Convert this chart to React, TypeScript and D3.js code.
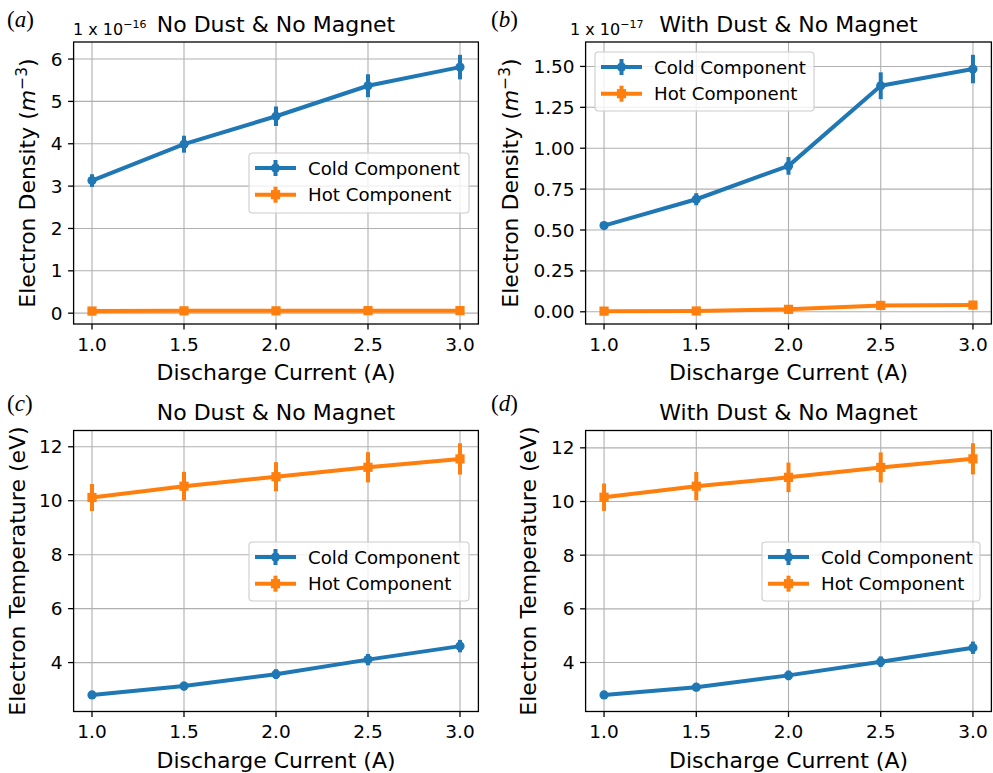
import React from "react";
import * as d3 from "d3";

const currents = [1.0, 1.5, 2.0, 2.5, 3.0];
const xTicks = [1.0, 1.5, 2.0, 2.5, 3.0];

// (a) density, no dust (units of 1e-16)
const densColdNoDust = [3.13, 3.99, 4.65, 5.37, 5.81];
const densColdNoDustErr = [0.15, 0.2, 0.23, 0.27, 0.29];
const densHotNoDust = [0.05, 0.055, 0.055, 0.06, 0.06];
const densHotNoDustErr = [0.003, 0.003, 0.003, 0.003, 0.003];

// (b) density, with dust (units of 1e-17)
const densColdDust = [0.527, 0.688, 0.892, 1.382, 1.484];
const densColdDustErr = [0.02, 0.037, 0.054, 0.082, 0.087];
const densHotDust = [0.004, 0.005, 0.015, 0.039, 0.041];
const densHotDustErr = [0.0003, 0.0003, 0.001, 0.002, 0.002];

// (c) temperature, no dust (eV)
const tempColdNoDust = [2.8, 3.13, 3.57, 4.11, 4.61];
const tempColdNoDustErr = [0.14, 0.16, 0.18, 0.21, 0.23];
const tempHotNoDust = [10.12, 10.54, 10.89, 11.24, 11.55];
const tempHotNoDustErr = [0.5, 0.53, 0.54, 0.56, 0.58];

// (d) temperature, with dust (eV)
const tempColdDust = [2.79, 3.08, 3.52, 4.03, 4.55];
const tempColdDustErr = [0.14, 0.15, 0.18, 0.2, 0.23];
const tempHotDust = [10.16, 10.57, 10.9, 11.27, 11.59];
const tempHotDustErr = [0.51, 0.53, 0.55, 0.56, 0.58];

const densTicksA = [0, 1, 2, 3, 4, 5, 6];
const densTicksB = [0, 0.25, 0.5, 0.75, 1.0, 1.25, 1.5];
const tempTicks = [4, 6, 8, 10, 12];

const seriesNames = ["Cold Component", "Hot Component"];
const COLD = "#1f77b4";
const HOT = "#ff7f0e";
const FONT = "DejaVu Sans, sans-serif";
const TICK_FS = 18.5;
const LABEL_FS = 22;
const LEGEND_FS = 18.2;

type Series = { vals: number[]; errs: number[]; color: string; marker: "o" | "s" };

type PanelCfg = {
  letter: string;
  letterX: number;
  letterY: number;
  title: string;
  left: number;
  right: number;
  top: number;
  bottom: number;
  yTicks: number[];
  yFmt: (v: number) => string;
  ylabel: "density" | "temp";
  ylabelX: number;
  offset?: string;
  offsetX?: number;
  series: Series[];
  legend: { x: number; y: number; w: number; h: number };
};

const panels: PanelCfg[] = [
  {
    letter: "a", letterX: 7, letterY: 27,
    title: "No Dust & No Magnet",
    left: 73.6, right: 478.4, top: 42, bottom: 324,
    yTicks: densTicksA, yFmt: (v) => d3.format("d")(v),
    ylabel: "density", ylabelX: 35,
    offset: "16", offsetX: 73,
    series: [
      { vals: densColdNoDust, errs: densColdNoDustErr, color: COLD, marker: "o" },
      { vals: densHotNoDust, errs: densHotNoDustErr, color: HOT, marker: "s" },
    ],
    legend: { x: 249, y: 153, w: 220, h: 60 },
  },
  {
    letter: "b", letterX: 491, letterY: 27,
    title: "With Dust & No Magnet",
    left: 585.6, right: 991.4, top: 42, bottom: 324,
    yTicks: densTicksB, yFmt: (v) => d3.format(".2f")(v),
    ylabel: "density", ylabelX: 518,
    offset: "17", offsetX: 570,
    series: [
      { vals: densColdDust, errs: densColdDustErr, color: COLD, marker: "o" },
      { vals: densHotDust, errs: densHotDustErr, color: HOT, marker: "s" },
    ],
    legend: { x: 595, y: 52, w: 219, h: 59 },
  },
  {
    letter: "c", letterX: 7, letterY: 411,
    title: "No Dust & No Magnet",
    left: 73.6, right: 478.4, top: 430.5, bottom: 711.5,
    yTicks: tempTicks, yFmt: (v) => d3.format("d")(v),
    ylabel: "temp", ylabelX: 25,
    series: [
      { vals: tempColdNoDust, errs: tempColdNoDustErr, color: COLD, marker: "o" },
      { vals: tempHotNoDust, errs: tempHotNoDustErr, color: HOT, marker: "s" },
    ],
    legend: { x: 249, y: 542, w: 220, h: 59 },
  },
  {
    letter: "d", letterX: 491, letterY: 411,
    title: "With Dust & No Magnet",
    left: 585.6, right: 991.4, top: 430.5, bottom: 711.5,
    yTicks: tempTicks, yFmt: (v) => d3.format("d")(v),
    ylabel: "temp", ylabelX: 536,
    series: [
      { vals: tempColdDust, errs: tempColdDustErr, color: COLD, marker: "o" },
      { vals: tempHotDust, errs: tempHotDustErr, color: HOT, marker: "s" },
    ],
    legend: { x: 762, y: 542, w: 218, h: 59 },
  },
];

function Marker({ x, y, kind, color }: { x: number; y: number; kind: "o" | "s"; color: string }) {
  if (kind === "o") return <circle cx={x} cy={y} r={4.6} fill={color} />;
  return <rect x={x - 4.6} y={y - 4.6} width={9.2} height={9.2} fill={color} />;
}

function Panel({ p }: { p: PanelCfg }) {
  const xMin = d3.min(currents)!;
  const xMax = d3.max(currents)!;
  const xPad = (xMax - xMin) * 0.05;
  const x = d3.scaleLinear().domain([xMin - xPad, xMax + xPad]).range([p.left, p.right]);

  const lo = d3.min(p.series.flatMap((s) => s.vals.map((v, i) => v - s.errs[i])))!;
  const hi = d3.max(p.series.flatMap((s) => s.vals.map((v, i) => v + s.errs[i])))!;
  const yPad = (hi - lo) * 0.05;
  const y = d3.scaleLinear().domain([lo - yPad, hi + yPad]).range([p.bottom, p.top]);

  const line = d3
    .line<number>()
    .x((_, i) => x(currents[i]))
    .y((v) => y(v));

  const cx = (p.left + p.right) / 2;
  const cy = (p.top + p.bottom) / 2;
  const lg = p.legend;

  return (
    <g>
      {xTicks.map((t) => (
        <line key={"gx" + t} x1={x(t)} x2={x(t)} y1={p.top} y2={p.bottom} stroke="#b0b0b0" strokeWidth={1.1} />
      ))}
      {p.yTicks.map((t) => (
        <line key={"gy" + t} x1={p.left} x2={p.right} y1={y(t)} y2={y(t)} stroke="#b0b0b0" strokeWidth={1.1} />
      ))}

      {p.series.map((s, si) => (
        <g key={"s" + si}>
          {s.vals.map((v, i) => (
            <line
              key={"e" + i}
              x1={x(currents[i])}
              x2={x(currents[i])}
              y1={y(v - s.errs[i])}
              y2={y(v + s.errs[i])}
              stroke={s.color}
              strokeWidth={4}
            />
          ))}
          <path d={line(s.vals) || ""} fill="none" stroke={s.color} strokeWidth={4} strokeLinejoin="round" />
          {s.vals.map((v, i) => (
            <Marker key={"m" + i} x={x(currents[i])} y={y(v)} kind={s.marker} color={s.color} />
          ))}
        </g>
      ))}

      <rect x={p.left} y={p.top} width={p.right - p.left} height={p.bottom - p.top} fill="none" stroke="#000" strokeWidth={1.3} />

      {xTicks.map((t) => (
        <g key={"xt" + t}>
          <line x1={x(t)} x2={x(t)} y1={p.bottom} y2={p.bottom + 5.5} stroke="#000" strokeWidth={1.3} />
          <text x={x(t)} y={p.bottom + 26.5} textAnchor="middle" fontSize={TICK_FS} fontFamily={FONT} fill="#000">
            {d3.format(".1f")(t)}
          </text>
        </g>
      ))}
      {p.yTicks.map((t) => (
        <g key={"yt" + t}>
          <line x1={p.left - 5.5} x2={p.left} y1={y(t)} y2={y(t)} stroke="#000" strokeWidth={1.3} />
          <text x={p.left - 11} y={y(t) + 6.6} textAnchor="end" fontSize={TICK_FS} fontFamily={FONT} fill="#000">
            {p.yFmt(t)}
          </text>
        </g>
      ))}

      <text x={cx} y={p.bottom + 56} textAnchor="middle" fontSize={LABEL_FS} fontFamily={FONT} fill="#000">
        Discharge Current (A)
      </text>
      <text
        transform={`translate(${p.ylabelX},${cy}) rotate(-90)`}
        textAnchor="middle"
        fontSize={LABEL_FS}
        fontFamily={FONT}
        fill="#000"
      >
        {p.ylabel === "density" ? (
          <>
            Electron Density (<tspan fontStyle="italic">m</tspan>
            <tspan dy={-8} fontSize={15.5}>−3</tspan>
            <tspan dy={8}>)</tspan>
          </>
        ) : (
          "Electron Temperature (eV)"
        )}
      </text>

      <text x={cx} y={p.top - 10.5} textAnchor="middle" fontSize={LABEL_FS} fontFamily={FONT} fill="#000">
        {p.title}
      </text>

      {p.offset && (
        <text x={p.offsetX} y={35} fontSize={16} fontFamily={FONT} fill="#000">
          1 x 10
          <tspan dy={-7} fontSize={11}>{"−" + p.offset}</tspan>
        </text>
      )}

      <text x={p.letterX} y={p.letterY} fontSize={23} fontFamily="Liberation Serif, DejaVu Serif, serif" fill="#000">
        (<tspan fontStyle="italic">{p.letter}</tspan>)
      </text>

      <rect x={lg.x} y={lg.y} width={lg.w} height={lg.h} rx={3.5} fill="#fff" fillOpacity={0.8} stroke="#cccccc" strokeWidth={1.1} />
      {p.series.map((s, si) => {
        const ry = lg.y + 15 + si * 26.7;
        const hx1 = lg.x + 6;
        const hx2 = lg.x + 47;
        const hm = (hx1 + hx2) / 2;
        return (
          <g key={"lg" + si}>
            <line x1={hx1} x2={hx2} y1={ry} y2={ry} stroke={s.color} strokeWidth={4} />
            <line x1={hm} x2={hm} y1={ry - 8} y2={ry + 8} stroke={s.color} strokeWidth={4} />
            <Marker x={hm} y={ry} kind={s.marker} color={s.color} />
            <text x={lg.x + 59} y={ry + 6.5} fontSize={LEGEND_FS} fontFamily={FONT} fill="#000">
              {seriesNames[si]}
            </text>
          </g>
        );
      })}
    </g>
  );
}

export default function App() {
  return (
    <svg
      width={993}
      height={773}
      viewBox="0 0 993 773"
      style={{ position: "absolute", left: 0, top: 0, background: "#fff" }}
    >
      <rect x={0} y={0} width={993} height={773} fill="#fff" />
      {panels.map((p) => (
        <Panel key={p.letter} p={p} />
      ))}
    </svg>
  );
}
